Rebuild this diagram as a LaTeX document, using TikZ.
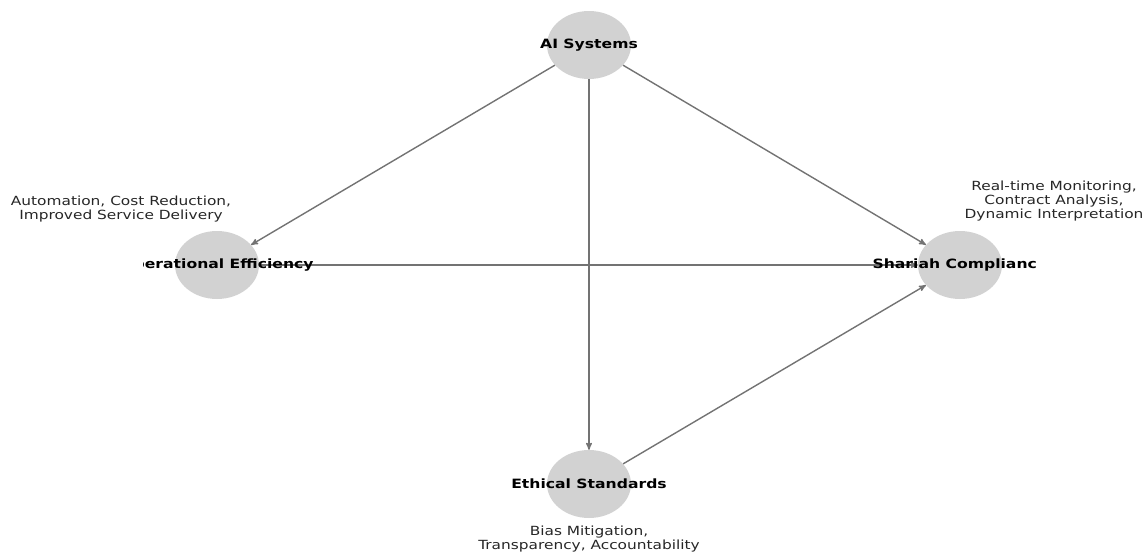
\documentclass[tikz,border=0pt]{standalone}
\usepackage{fontspec}
\setmainfont{DejaVu Sans}[FakeStretch=1.22]
\usetikzlibrary{arrows}
\usetikzlibrary{shapes}

\begin{document}
\begin{tikzpicture}[x=1pt, y=-1pt,
                   bubble/.style={ellipse, fill=gray!35, minimum width=84pt, minimum height=68pt, inner sep=0pt},
                   tag/.style={inner sep=0pt, font=\fontsize{12.8}{14}\selectfont\bfseries},
                   note/.style={align=center, inner sep=0pt, text=black!85, font=\fontsize{12.6}{14}\selectfont},
                   edge/.style={->, >=stealth', draw=gray!90!black, line width=1.4pt}]
\useasboundingbox (0,0) rectangle (1146,552);
% nodes
\node[bubble] (ai)  at (589,45)  {};
\node[bubble] (ops) at (217,265) {};
\node[bubble] (sha) at (960,265) {};
\node[bubble] (eth) at (589,484) {};
% links
\draw[edge] (ai) -- (ops);
\draw[edge] (ai) -- (sha);
\draw[edge] (ai) -- (eth);
\draw[edge] (ops) -- (sha);
\draw[edge] (eth) -- (sha);
% labels
\node[tag] (ai-t) at (ai) {AI Systems};
\begin{scope}
  \clip (143,240) rectangle (340,290);
  \node[tag] (ops-t) at (ops) {Operational Efficiency};
\end{scope}
\begin{scope}
  \clip (840,240) rectangle (1036,290);
  \node[tag] (sha-t) at (sha) {Shariah Compliance};
\end{scope}
\node[tag] (eth-t) at (eth) {Ethical Standards};
% notes
\node[note] (ops-n) at (121,209) {Automation, Cost Reduction,\\Improved Service Delivery};
\node[note] (sha-n) at (1054,201) {Real-time Monitoring,\\Contract Analysis,\\Dynamic Interpretation};
\node[note] (eth-n) at (589,539) {Bias Mitigation,\\Transparency, Accountability};
\end{tikzpicture}
\end{document}
